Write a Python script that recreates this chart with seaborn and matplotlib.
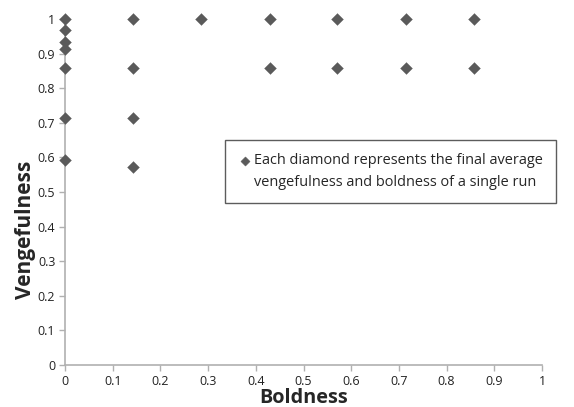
import matplotlib
matplotlib.use("Agg")
import matplotlib.pyplot as plt
import seaborn as sns
import pandas as pd

boldness = [0, 0, 0, 0, 0, 0, 0,
            0.143, 0.143, 0.143, 0.143,
            0.286,
            0.429, 0.429,
            0.571, 0.571,
            0.714, 0.714,
            0.857, 0.857]
vengefulness = [1.0, 0.967, 0.933, 0.914, 0.857, 0.714, 0.593,
                1.0, 0.857, 0.714, 0.571,
                1.0,
                1.0, 0.857,
                1.0, 0.857,
                1.0, 0.857,
                1.0, 0.857]
tick_values = [0, 0.1, 0.2, 0.3, 0.4, 0.5, 0.6, 0.7, 0.8, 0.9, 1]
tick_labels = ["0", "0.1", "0.2", "0.3", "0.4", "0.5", "0.6", "0.7", "0.8", "0.9", "1"]
legend_label = "Each diamond represents the final average\nvengefulness and boldness of a single run"

df = pd.DataFrame({"Boldness": boldness, "Vengefulness": vengefulness})

sns.set_style("white")
plt.rcParams["font.family"] = ["Open Sans", "DejaVu Sans"]

fig = plt.figure(figsize=(5.74, 4.07), dpi=100)
ax = fig.add_axes([65/574, 1-365/407, (542-65)/574, (365-19)/407])

sns.scatterplot(data=df, x="Boldness", y="Vengefulness", marker="D", s=36,
                color="#5a5a5a", edgecolor="#5a5a5a", linewidth=0.3,
                label=legend_label, ax=ax, clip_on=False, zorder=3)

ax.set_xlim(0, 1)
ax.set_ylim(0, 1)
ax.set_xticks(tick_values)
ax.set_xticklabels(tick_labels)
ax.set_yticks(tick_values)
ax.set_yticklabels(tick_labels)
for s in ["top", "right"]:
    ax.spines[s].set_visible(False)
for s in ["left", "bottom"]:
    ax.spines[s].set_color("#b0b0b0")
    ax.spines[s].set_linewidth(1.2)
ax.tick_params(axis="both", direction="out", length=4, width=1, color="#b0b0b0",
               labelsize=9, labelcolor="#222222", pad=3, left=True, bottom=True)

ax.set_xlabel("Boldness", fontsize=14.3, fontweight="bold", labelpad=0)
ax.set_ylabel("Vengefulness", fontsize=15, fontweight="bold")
ax.yaxis.set_label_coords((36-65)/477, (365-230)/346)

fs = 10.45
leg = ax.legend(loc="upper left", bbox_to_anchor=((225-65)/477, (365-140)/346),
                frameon=True, fancybox=False, fontsize=fs, handletextpad=0.2,
                handlelength=0.9, borderpad=0.9, borderaxespad=0)
leg.get_texts()[0].set_linespacing(1.6)
leg.get_frame().set_edgecolor("#333333")
leg.get_frame().set_linewidth(1.0)
h = leg.legend_handles[0]
h.set_sizes([22])
offs = h.get_offsets()
offs[:, 1] += 8.4
h.set_offsets(offs)

fig.savefig("out.png", dpi=100)
